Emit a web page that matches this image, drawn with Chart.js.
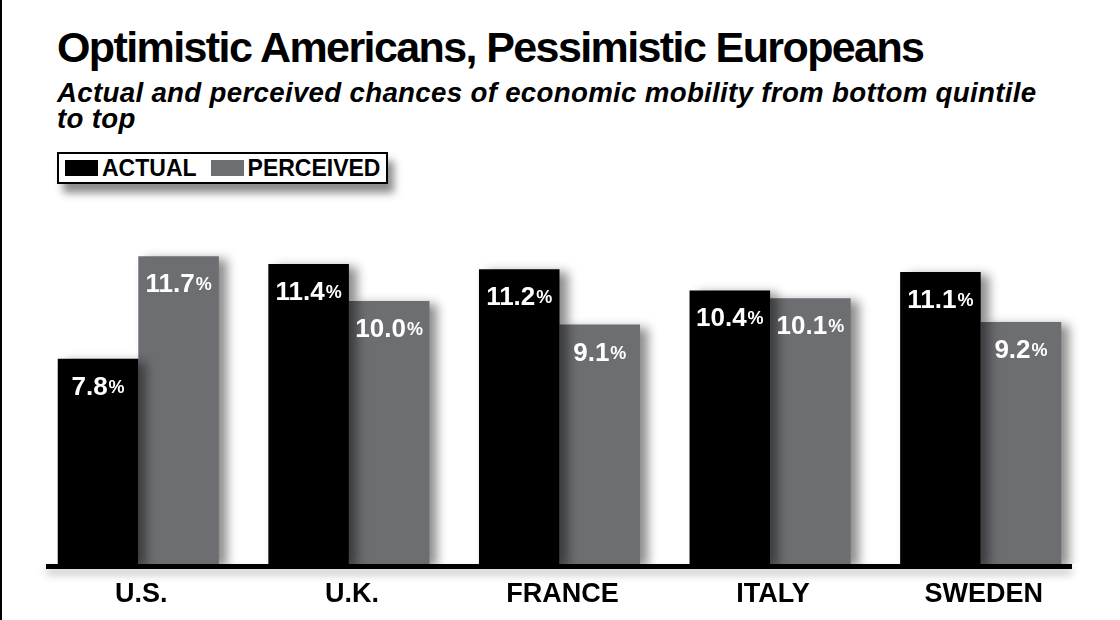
<!DOCTYPE html>
<html>
<head>
<meta charset="utf-8">
<script src="https://cdn.jsdelivr.net/npm/chart.js@4.4.1/dist/chart.umd.min.js"></script>
<style>
  html, body { margin: 0; padding: 0; background: #fff; }
  body { width: 1120px; height: 620px; position: relative; overflow: hidden; font-family: "Liberation Sans", Arial, sans-serif; }
  #frame { position: absolute; left: 0; top: 0; width: 2px; height: 620px; background: #000; }
  #title { position: absolute; left: 57px; top: 26px; font-size: 43px; line-height: 1; font-weight: bold; letter-spacing: -1.6px; white-space: nowrap; }
  #subtitle { position: absolute; left: 57px; top: 80px; width: 1000px; font-size: 27.7px; line-height: 26px; letter-spacing: 0.3px; font-weight: bold; font-style: italic; }
  #legend { position: absolute; left: 57px; top: 152px; height: 28px; padding: 0 6px; border: 2px solid #000; background: #fff;
            box-shadow: 6px 9px 8px rgba(0,0,0,0.45); display: flex; align-items: center; font-size: 23px; font-weight: bold; }
  #legend .sw { display: inline-block; width: 33px; height: 16px; margin-right: 4px; }
  #legend .item { display: flex; align-items: center; margin-right: 14px; }
  #legend .item:last-child { margin-right: 0; }
  canvas { position: absolute; left: 0; top: 0; }
</style>
</head>
<body>
<div id="frame"></div>
<div id="title">Optimistic Americans, Pessimistic Europeans</div>
<div id="subtitle">Actual and perceived chances of economic mobility from bottom quintile to top</div>
<div id="legend"></div>
<canvas id="chart" width="1120" height="620"></canvas>
<script>
const countries = ["U.S.", "U.K.", "FRANCE", "ITALY", "SWEDEN"];
const actual = [7.8, 11.4, 11.2, 10.4, 11.1];
const perceived = [11.7, 10.0, 9.1, 10.1, 9.2];
const seriesNames = ["ACTUAL", "PERCEIVED"];
const seriesColors = ["#000000", "#6d6e72"];

const FONT = "'Liberation Sans', Arial, sans-serif";

// soft shadow to the right of each bar
const barShadow = {
  id: "barShadow",
  beforeDatasetsDraw(chart) {
    const ctx = chart.ctx;
    ctx.save();
    ctx.shadowColor = "rgba(0,0,0,0.45)";
    ctx.shadowBlur = 10;
    ctx.shadowOffsetX = 8;
    ctx.shadowOffsetY = 3;
  },
  afterDatasetsDraw(chart) {
    chart.ctx.restore();
  }
};

// thick baseline + category names under it
const baseAxis = {
  id: "baseAxis",
  afterDatasetsDraw(chart) {
    const ctx = chart.ctx, a = chart.chartArea, xs = chart.scales.x;
    ctx.save();
    ctx.shadowColor = "rgba(0,0,0,0.3)";
    ctx.shadowBlur = 8;
    ctx.shadowOffsetY = 5;
    ctx.fillStyle = "#000";
    ctx.fillRect(46, a.bottom, 1026, 5);
    ctx.restore();

    ctx.save();
    ctx.fillStyle = "#000";
    ctx.font = "bold 27px " + FONT;
    ctx.textAlign = "center";
    ctx.textBaseline = "middle";
    chart.data.labels.forEach((lab, i) => {
      ctx.fillText(lab, xs.getPixelForValue(i) + 3, a.bottom + 31);
    });
    ctx.restore();
  }
};

// value labels inside the top of the bars, smaller %
const valueLabels = {
  id: "valueLabels",
  afterDatasetsDraw(chart) {
    const ctx = chart.ctx;
    ctx.save();
    ctx.fillStyle = "#fff";
    ctx.textBaseline = "alphabetic";
    ctx.textAlign = "left";
    chart.data.datasets.forEach((ds, di) => {
      chart.getDatasetMeta(di).data.forEach((bar, i) => {
        const num = ds.data[i].toFixed(1);
        ctx.font = "bold 26px " + FONT;
        const w1 = ctx.measureText(num).width;
        ctx.font = "bold 18px " + FONT;
        const w2 = ctx.measureText("%").width;
        const x0 = bar.x - (w1 + w2 + 1) / 2;
        const y = bar.y + 36;
        ctx.font = "bold 26px " + FONT;
        ctx.fillText(num, x0, y);
        ctx.font = "bold 18px " + FONT;
        ctx.fillText("%", x0 + w1 + 1, y - 2);
      });
    });
    ctx.restore();
  }
};

const chart = new Chart(document.getElementById("chart"), {
  type: "bar",
  data: {
    labels: countries,
    datasets: [
      { label: seriesNames[0], data: actual, backgroundColor: seriesColors[0] },
      { label: seriesNames[1], data: perceived, backgroundColor: seriesColors[1] }
    ]
  },
  options: {
    responsive: false,
    animation: false,
    devicePixelRatio: 1,
    layout: { padding: { top: 222, left: 33, right: 34, bottom: 56 } },
    datasets: { bar: { barPercentage: 1.0, categoryPercentage: 0.765 } },
    plugins: { legend: { display: false }, tooltip: { enabled: false } },
    scales: {
      y: { display: false, min: 0, max: 13 },
      x: { display: false }
    }
  },
  plugins: [barShadow, baseAxis, valueLabels]
});

// html legend from the datasets
document.getElementById("legend").innerHTML = chart.data.datasets.map(ds =>
  `<span class="item"><span class="sw" style="background:${ds.backgroundColor}"></span>${ds.label}</span>`
).join("");
</script>
</body>
</html>
